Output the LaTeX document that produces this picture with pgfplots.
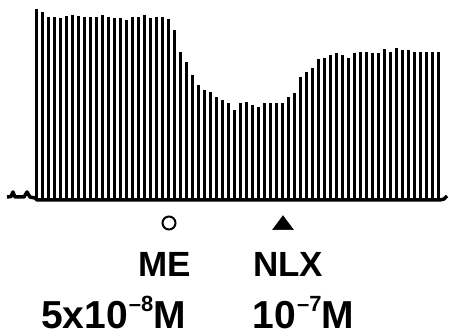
\documentclass[border=0pt]{standalone}
\usepackage{pgfplots}
\pgfplotsset{compat=1.18}
\usepackage{pgfplotstable}
\usepackage{fontspec}
\setmainfont{Liberation Sans}
\pgfplotstableread{
x amp
36.7 191
42.7 188
48.7 183
54.7 183
60.7 182
66.7 184
72.7 185
78.7 184
84.7 183
90.7 183
96.7 183
102.7 185
108.7 183
114.7 182
120.7 182
126.7 180
132.7 183
138.7 183
144.7 185
150.7 182
156.7 183
162.7 183
168.7 181
174.7 170
180.7 148
186.7 138
192.7 125
198.7 115
204.7 110
210.7 108
216.7 103
222.7 100
228.7 97
234.7 90
240.7 97
246.7 98
252.7 95
258.7 93
264.7 97
270.7 97
276.7 97
282.7 97
288.7 103
294.7 107
300.7 123
306.7 128
312.7 132
318.7 141
324.7 142
330.7 145
336.7 147
342.7 145
348.7 142
354.7 147
360.7 148
366.7 148
372.7 147
378.7 147
384.7 151
390.7 148
396.7 152
402.7 150
408.7 150
414.7 148
420.7 148
426.7 148
432.7 148
438.7 148
}\spikes
\begin{document}
\begin{tikzpicture}
\begin{axis}[
  scale only axis, width=449pt, height=336pt,
  xmin=0, xmax=449, ymin=-136, ymax=200,
  hide axis, clip=false,
]
\path (axis cs:0,-136) rectangle (axis cs:449,200);
% baseline
\addplot[black, line width=3.5pt, line join=round] coordinates {
(7,3) (11,3.5) (13,8) (15,3) (24,3) (27,8) (30,3) (35,2) (37,0) (440,0) (444,1) (447,4)};
% spikes
\addplot[black, ycomb, line width=3.2pt] table[x=x, y=amp] {\spikes};
% markers
\addplot[black, only marks, mark=o, mark size=6.5pt, line width=2pt] coordinates {(169,-23)};
\addplot[black, only marks, mark=triangle*, mark size=12pt, mark options={yscale=0.78}] coordinates {(283,-25)};
% labels
\node[anchor=base, inner sep=0pt, font=\fontsize{35}{35}\selectfont\bfseries] at (axis cs:165,-77) {ME};
\node[anchor=base, inner sep=0pt, font=\fontsize{35}{35}\selectfont\bfseries] at (axis cs:288,-77) {NLX};
\node[anchor=base, inner sep=0pt, font=\fontsize{39}{39}\selectfont\bfseries] at (axis cs:113.5,-129) {5x10\kern1pt\raisebox{17pt}{\fontsize{22}{22}\selectfont\bfseries \textendash 8}M};
\node[anchor=base, inner sep=0pt, font=\fontsize{39}{39}\selectfont\bfseries] at (axis cs:303.5,-129) {10\kern1pt\raisebox{17pt}{\fontsize{22}{22}\selectfont\bfseries \textendash 7}M};
\end{axis}
\end{tikzpicture}
\end{document}
